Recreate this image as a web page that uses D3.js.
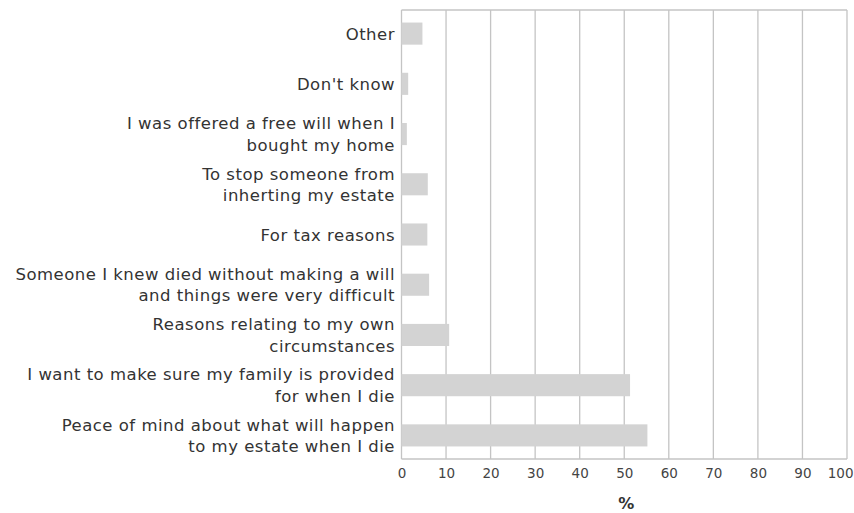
<!DOCTYPE html>
<html><head><meta charset="utf-8">
<script src="https://cdn.jsdelivr.net/npm/d3@7"></script>
<style>
html,body{margin:0;padding:0;background:#fff;}
svg{display:block;}
</style></head>
<body>
<svg id="chart" width="854" height="513"></svg>
<script>
const categories = [
  "Other",
  "Don't know",
  "I was offered a free will when I|bought my home",
  "To stop someone from|inherting my estate",
  "For tax reasons",
  "Someone I knew died without making a will|and things were very difficult",
  "Reasons relating to my own|circumstances",
  "I want to make sure my family is provided|for when I die",
  "Peace of mind about what will happen|to my estate when I die"
];
const values = [4.7, 1.5, 1.2, 5.9, 5.8, 6.2, 10.7, 51.3, 55.2];
const xTicks = [0, 10, 20, 30, 40, 50, 60, 70, 80, 90, 100];
const xTitle = "%";

const svg = d3.select("#chart");
const pLeft = 401.5, pRight = 847, pTop = 10, pBottom = 459;
const font = "'DejaVu Sans', sans-serif";

const x = d3.scaleLinear().domain([0, 100]).range([pLeft, pRight]);
const y = d3.scaleBand().domain(categories).range([pTop, pBottom]).paddingInner(0.56).paddingOuter(0.25);

// grid
svg.append("g").selectAll("line").data(xTicks).join("line")
  .attr("x1", d => x(d)).attr("x2", d => x(d))
  .attr("y1", pTop).attr("y2", pBottom)
  .attr("stroke", "#c4c4c4").attr("stroke-width", 1.3);
// frame top & bottom
svg.append("line").attr("x1", pLeft).attr("x2", pRight).attr("y1", pTop).attr("y2", pTop)
  .attr("stroke", "#c4c4c4").attr("stroke-width", 1.3);
svg.append("line").attr("x1", pLeft).attr("x2", pRight).attr("y1", pBottom).attr("y2", pBottom)
  .attr("stroke", "#c4c4c4").attr("stroke-width", 1.3);

// bars
svg.append("g").selectAll("rect").data(categories).join("rect")
  .attr("x", x(0))
  .attr("y", d => y(d))
  .attr("width", (d, i) => x(values[i]) - x(0))
  .attr("height", y.bandwidth())
  .attr("fill", "#d3d3d3");

// x axis
const xAxis = d3.axisBottom(x).tickValues(xTicks).tickSize(0).tickPadding(9);
const gx = svg.append("g").attr("transform", `translate(0,${pBottom})`).call(xAxis);
gx.select(".domain").remove();
gx.selectAll("text").attr("font-family", font).attr("font-size", 13.5).attr("fill", "#444");
gx.selectAll(".tick").filter(d => d === 100).select("text")
  .attr("text-anchor", "end").attr("x", 853 - x(100));

// y labels
const lh = 21.5;
const gy = svg.append("g");
categories.forEach(c => {
  const lines = c.split("|");
  const cy = y(c) + y.bandwidth() / 2;
  const t = gy.append("text")
    .attr("text-anchor", "end")
    .attr("font-family", font).attr("font-size", 16.5)
    .attr("letter-spacing", 0.5).attr("fill", "#333");
  lines.forEach((ln, j) => {
    t.append("tspan").attr("x", 395)
      .attr("y", cy + (j - (lines.length - 1) / 2) * lh + 6)
      .text(ln);
  });
});

svg.append("text").attr("x", (pLeft + pRight) / 2 + 2).attr("y", 509)
  .attr("text-anchor", "middle").attr("font-family", font)
  .attr("font-size", 16).attr("font-weight", "bold").attr("fill", "#333")
  .text(xTitle);
</script>
</body></html>
